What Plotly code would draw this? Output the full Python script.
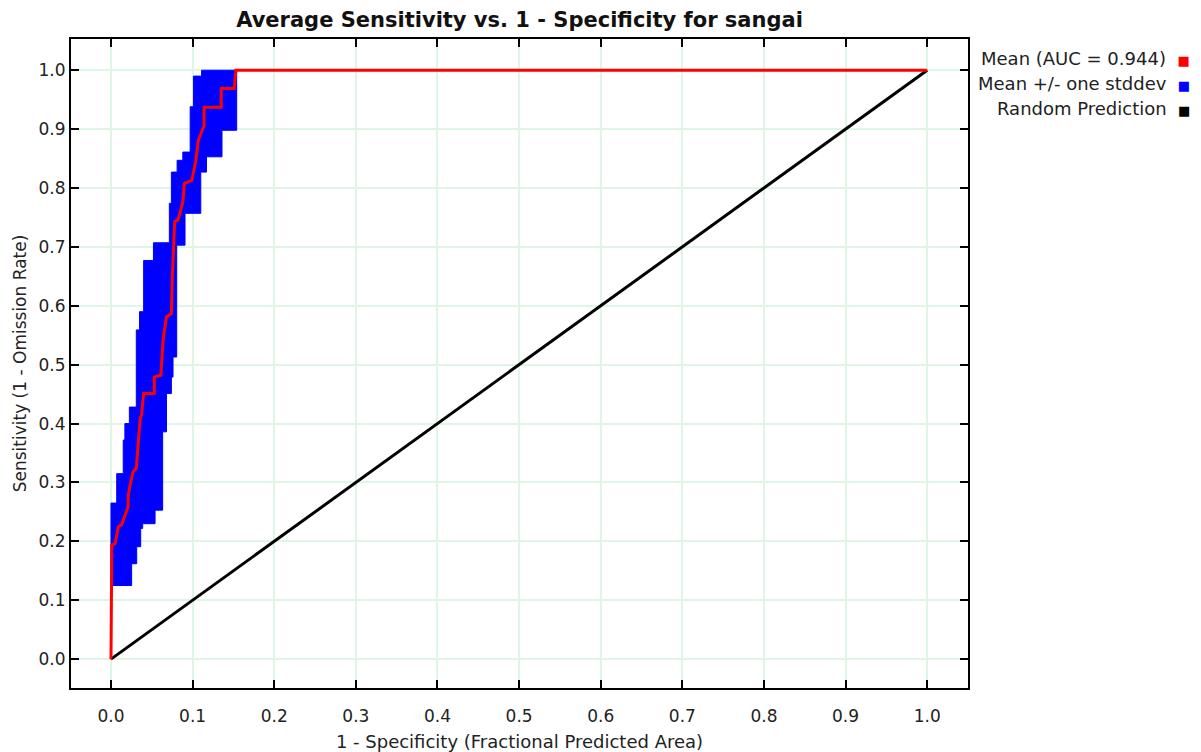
import plotly.graph_objects as go

# Mean ROC curve (corner points)
mean_x = [0, 0.001, 0.005, 0.009, 0.013, 0.021, 0.021, 0.023, 0.027, 0.031, 0.0355, 0.0376, 0.040,
          0.053, 0.053, 0.061, 0.064, 0.068, 0.074, 0.075, 0.078, 0.082, 0.088, 0.090, 0.099,
          0.104, 0.107, 0.114, 0.114, 0.135, 0.135, 0.151, 0.153, 1.0]
mean_y = [0, 0.194, 0.196, 0.225, 0.228, 0.259, 0.276, 0.293, 0.318, 0.324, 0.405, 0.417, 0.451,
          0.451, 0.479, 0.482, 0.545, 0.581, 0.587, 0.643, 0.743, 0.745, 0.776, 0.808, 0.813,
          0.847, 0.881, 0.906, 0.937, 0.937, 0.969, 0.969, 1.0, 1.0]

# Mean + one stddev (step function: value reached at each x)
upper_x = [0, 0, 0.007, 0.015, 0.017, 0.0225, 0.031, 0.035, 0.040, 0.052, 0.0715, 0.074,
           0.081, 0.088, 0.097, 0.101, 0.111]
upper_y = [0.126, 0.265, 0.315, 0.372, 0.400, 0.428, 0.559, 0.590, 0.677, 0.707, 0.774, 0.827,
           0.847, 0.861, 0.938, 0.990, 1.0]

# Mean - one stddev (step function: value reached at each x)
lower_x = [0, 0.0253, 0.0315, 0.0364, 0.0388, 0.054, 0.0633, 0.068, 0.074, 0.076, 0.0805,
           0.0907, 0.110, 0.117, 0.136, 0.154]
lower_y = [0.125, 0.162, 0.191, 0.222, 0.230, 0.253, 0.386, 0.451, 0.479, 0.513, 0.703,
           0.757, 0.827, 0.853, 0.898, 1.0]

random_x = [0, 1]
random_y = [0, 1]

auc = 0.944
legend_labels = [f"Mean (AUC = {auc})", "Mean +/- one stddev", "Random Prediction"]
legend_colors = ["#ff0000", "#0000ff", "#000000"]


def steps(xs, ys):
    px, py = [xs[0]], [ys[0]]
    for i in range(1, len(xs)):
        px += [xs[i], xs[i]]
        py += [py[-1], ys[i]]
    return px, py


ux, uy = steps(upper_x, upper_y)
lx, ly = steps(lower_x, lower_y)
band_x = ux + lx[::-1]
band_y = uy + ly[::-1]

fig = go.Figure()
fig.add_trace(go.Scatter(x=band_x, y=band_y, mode="lines", fill="toself",
                         fillcolor="#0000ff", line=dict(color="#0000ff", width=1),
                         hoverinfo="skip", showlegend=False))
fig.add_trace(go.Scatter(x=random_x, y=random_y, mode="lines",
                         line=dict(color="#000000", width=3), showlegend=False))
fig.add_trace(go.Scatter(x=mean_x, y=mean_y, mode="lines",
                         line=dict(color="#ff0000", width=3), showlegend=False))

font = "DejaVu Sans, Arial, sans-serif"
for i, (lab, col) in enumerate(zip(legend_labels, legend_colors)):
    fig.add_annotation(xref="paper", yref="paper", x=1.0, xshift=224, xanchor="right",
                       y=1.0, yshift=-19 - i * 25, yanchor="middle", showarrow=False,
                       text=f"{lab}  <span style='color:{col};font-size:13px'>■</span>",
                       font=dict(family=font, size=18, color="#222222"))

axis_common = dict(showline=True, linecolor="#000000", linewidth=2, mirror="ticks",
                   ticks="inside", ticklen=8, tickwidth=2, tickcolor="#000000",
                   showgrid=True, gridcolor="#def6e6", gridwidth=2, zeroline=False,
                   dtick=0.1, tick0=0, tickformat=".1f", automargin=False,
                   tickfont=dict(family=font, size=17, color="#222222"))

fig.update_layout(
    width=1201, height=752,
    margin=dict(l=71, r=233, t=39, b=64),
    paper_bgcolor="white", plot_bgcolor="white",
    title=dict(text="<b>Average Sensitivity vs. 1 - Specificity for sangai</b>",
               x=(71 + 968) / 2 / 1201, xanchor="center", y=1 - 20 / 752, yanchor="middle",
               font=dict(family=font, size=21, color="#111111")),
    xaxis=dict(range=[-0.049, 1.050], **axis_common, ticklabelstandoff=12,
               title=dict(text="1 - Specificity (Fractional Predicted Area)", standoff=10,
                          font=dict(family=font, size=18, color="#222222"))),
    yaxis=dict(range=[-0.049, 1.053], **axis_common,
               title=dict(text="Sensitivity (1 - Omission Rate)", standoff=8,
                          font=dict(family=font, size=17, color="#222222"))),
)

fig.write_html("out.html")
